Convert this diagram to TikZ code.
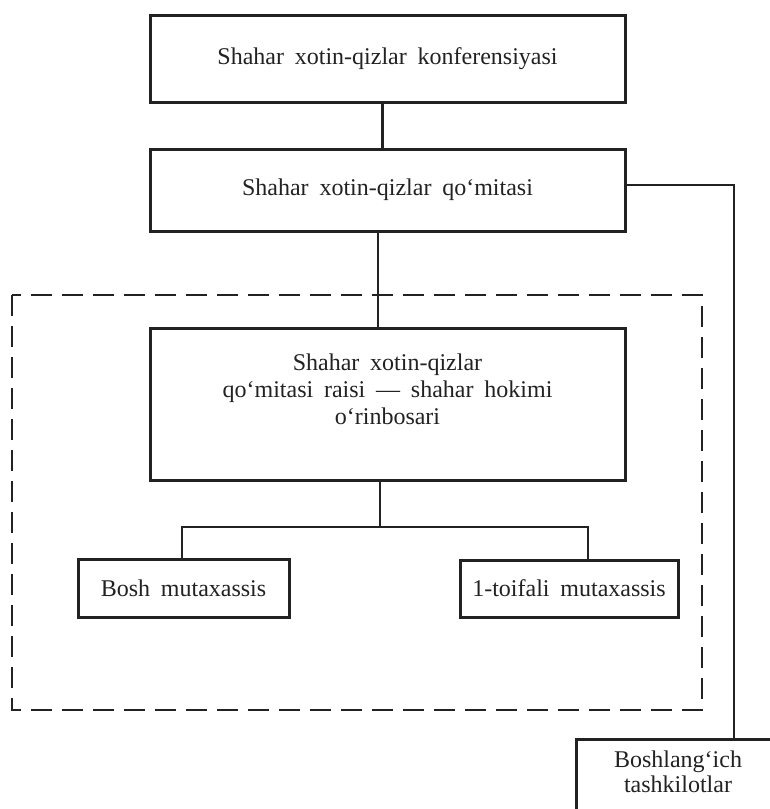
\documentclass[tikz,border=0pt]{standalone}
\usepackage{fontspec}
\setmainfont[WordSpace=1.8]{Liberation Serif}
\definecolor{ink}{HTML}{222222}
\tikzset{
  box/.style={draw=ink, line width=3pt, inner sep=0pt, text=ink,
    font=\fontsize{24}{27}\selectfont, align=center},
  txt/.style={inner sep=0pt, text=ink, font=\fontsize{24}{27}\selectfont, align=center},
  conn/.style={draw=ink, line width=2.8pt},
  grpbox/.style={draw=ink, line width=2.8pt, dash pattern=on 21pt off 10pt}
}
\begin{document}
\begin{tikzpicture}[x=1pt,y=-1pt]
\useasboundingbox (0,0) rectangle (770,809);
\fill[white] (0,0) rectangle (770,809);

% dashed group
\draw[grpbox] (12,295) rectangle (702,710);

% boxes
\node[box, minimum width=475pt, minimum height=87pt] (conf) at (387.5,58.5)
  {Shahar xotin-qizlar konferensiyasi};
\node[box, minimum width=475pt, minimum height=82pt] (qom) at (387.5,190)
  {Shahar xotin-qizlar qo‘mitasi};
\node[box, minimum width=475pt, minimum height=152pt] (rais) at (387.5,404.5) {};
\node[txt] (raist) at (387.5,389)
  {Shahar xotin-qizlar\\qo‘mitasi raisi — shahar hokimi\\o‘rinbosari};
\node[box, minimum width=211pt, minimum height=58pt] (bosh) at (183.5,588)
  {Bosh mutaxassis};
\node[box, minimum width=218pt, minimum height=57pt] (toif) at (569,588.5)
  {1-toifali mutaxassis};
\node[box, minimum width=204pt, minimum height=100pt] (bosl) at (678,789) {};
\node[txt, font=\fontsize{24}{25}\selectfont] (boslt) at (678,772)
  {Boshlang‘ich\\tashkilotlar};

% connectors
\coordinate (j) at (380,527);
\draw[conn] ([xshift=-5pt]conf.south) -- ([xshift=-5pt]qom.north);
\draw[conn] ([xshift=-9.5pt]qom.south) -- ([xshift=-9.5pt]rais.north);
\draw[conn] ([yshift=5pt]qom.east) -| ([xshift=56pt]bosl.north);
\draw[conn] (rais.south -| j) -- (j);
\draw[conn] ([xshift=-1.5pt]bosh.north) |- (j) -| ([xshift=19pt]toif.north);
\end{tikzpicture}
\end{document}
